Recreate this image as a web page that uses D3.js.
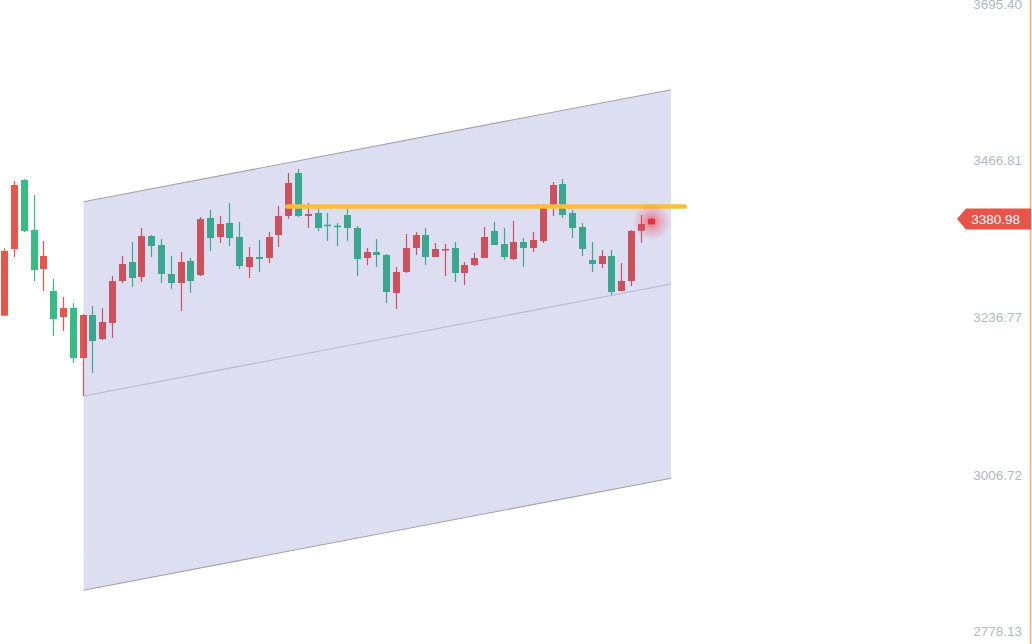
<!DOCTYPE html>
<html><head><meta charset="utf-8">
<script src="https://cdn.jsdelivr.net/npm/d3@7"></script>
<style>html,body{margin:0;padding:0;background:#fff;overflow:hidden}</style>
</head><body><svg id="c" width="1032" height="644"></svg>
<script>
const opens = [3239.41,3336.99,3437.94,3364.79,3307.73,3275.55,3237.51,3250.68,3177.53,3240.43,
3205.32,3228.73,3290.18,3317.97,3296.03,3356.01,3342.85,3300.42,3287.25,3319.44,
3298.96,3382.35,3354.55,3375.03,3354.55,3310.66,3325.29,3323.83,3357.47,3385.27,
3448.18,3385.27,3389.66,3372.55,3371.08,3386.74,3367.72,3323.83,3332.60,3328.21,
3272.62,3303.34,3338.46,3357.47,3325.29,3335.53,3338.46,3301.88,3313.58,3323.83,
3363.33,3344.31,3322.36,3347.23,3338.46,3348.70,3398.44,3432.09,3389.66,3369.18,
3320.90,3315.05,3326.75,3275.55,3290.18,3363.76,3373.13];
const closes = [3334.07,3430.62,3363.33,3306.27,3326.75,3234.58,3250.68,3177.53,3240.43,3202.40,
3230.19,3290.18,3315.05,3294.57,3356.01,3341.38,3300.42,3287.25,3317.97,3290.18,
3380.88,3353.09,3373.57,3353.09,3312.12,3325.29,3322.36,3354.55,3385.27,3433.55,
3385.27,3388.20,3367.72,3370.64,3369.18,3367.72,3322.36,3332.60,3328.21,3274.08,
3303.34,3338.46,3357.47,3325.29,3336.99,3336.99,3301.88,3313.58,3323.83,3354.55,
3342.85,3325.29,3347.23,3338.46,3350.16,3399.90,3430.62,3386.74,3367.72,3336.99,
3315.05,3326.75,3274.08,3290.18,3363.33,3373.57,3380.98];
const highs = [3338.02,3436.48,3439.40,3415.99,3348.70,3293.10,3266.77,3257.99,3241.90,3253.60,
3250.68,3297.49,3326.75,3347.23,3367.72,3357.47,3351.62,3326.75,3332.60,3323.83,
3383.81,3394.05,3385.27,3404.29,3376.49,3339.92,3350.16,3361.86,3399.90,3448.18,
3454.03,3404.29,3395.51,3389.66,3375.03,3395.51,3370.64,3338.46,3351.62,3329.68,
3310.66,3358.94,3361.86,3367.72,3345.77,3344.31,3347.23,3317.97,3331.14,3369.18,
3376.49,3367.72,3377.96,3353.09,3361.86,3402.83,3435.01,3439.40,3394.05,3375.03,
3347.23,3335.53,3335.53,3316.51,3364.79,3386.74,3383.00];
const lows = [3239.41,3325.29,3361.86,3290.18,3275.55,3209.71,3217.03,3170.21,3121.93,3155.58,
3203.86,3206.79,3287.25,3281.40,3288.71,3325.29,3287.25,3278.47,3246.29,3272.62,
3297.49,3334.07,3345.77,3341.38,3307.73,3294.57,3303.34,3316.51,3339.92,3380.88,
3383.81,3367.72,3363.33,3348.70,3341.38,3348.70,3297.49,3313.58,3310.66,3257.99,
3249.21,3301.88,3328.21,3313.58,3325.29,3297.49,3288.71,3284.33,3312.12,3323.83,
3342.85,3320.90,3320.90,3310.66,3332.60,3345.77,3385.27,3382.35,3353.09,3326.75,
3303.34,3309.20,3269.70,3275.55,3282.86,3346.20,3373.13];
const yTicks = [3695.40, 3466.81, 3236.77, 3006.72, 2778.13];
const lastPrice = 3380.98;
// parallel channel: base line from (index, price) to (index, price), band offset in price
const channelStart = [8.1, 3121.93];
const channelEnd = [68.1, 3285.79];
const channelOffset = 284.2;
// horizontal level line: [fromIndex, toIndex], price
const levelRange = [28.9, 69.5];
const levelPrice = 3399.3;

const svg = d3.select("#c");
const x = d3.scaleLinear().domain([0, 66]).range([4.3, 650.5]);
const y = d3.scaleLinear().domain([2778.13, 3695.40]).range([631, 4]);
const UP = "#eb5449", DOWN = "#36bd84";
const bw = 7;

const data = opens.map((o, i) => ({i, o, c: closes[i], h: highs[i], l: lows[i]}));

const defs = svg.append("defs");
const rg = defs.append("radialGradient").attr("id", "glow");
rg.append("stop").attr("offset", "0%").attr("stop-color", "rgb(240,40,50)").attr("stop-opacity", 0.65);
rg.append("stop").attr("offset", "50%").attr("stop-color", "rgb(240,60,70)").attr("stop-opacity", 0.28);
rg.append("stop").attr("offset", "100%").attr("stop-color", "rgb(240,60,70)").attr("stop-opacity", 0);

// candles
const g = svg.append("g");
const cg = g.selectAll("g.k").data(data.slice(0, -1)).join("g");
cg.append("line")
  .attr("x1", d => Math.round(x(d.i)) + 0.5).attr("x2", d => Math.round(x(d.i)) + 0.5)
  .attr("y1", d => y(d.h)).attr("y2", d => y(d.l))
  .attr("stroke", d => d.c >= d.o ? UP : DOWN).attr("stroke-width", 1.2);
cg.append("rect")
  .attr("x", d => Math.round(x(d.i)) + 0.5 - bw / 2).attr("width", bw)
  .attr("y", d => y(Math.max(d.o, d.c)))
  .attr("height", d => Math.max(1.5, y(Math.min(d.o, d.c)) - y(Math.max(d.o, d.c))))
  .attr("fill", d => d.c >= d.o ? UP : DOWN);

// channel band
const p = (i, v) => [x(i), y(v)];
const [i0, v0] = channelStart, [i1, v1] = channelEnd;
const band = [p(i0, v0 + channelOffset), p(i1, v1 + channelOffset), p(i1, v1 - channelOffset), p(i0, v0 - channelOffset)];
svg.append("path").attr("d", d3.line()(band) + "Z")
  .attr("fill", "rgba(70,70,190,0.18)");
const lines = [
  {a: p(i0, v0 + channelOffset), b: p(i1, v1 + channelOffset), c: "#a3a3ab"},
  {a: p(i0, v0), b: p(i1, v1), c: "#b9b9c9"},
  {a: p(i0, v0 - channelOffset), b: p(i1, v1 - channelOffset), c: "#a3a3ab"}
];
svg.selectAll("line.ch").data(lines).join("line")
  .attr("x1", d => d.a[0]).attr("y1", d => d.a[1]).attr("x2", d => d.b[0]).attr("y2", d => d.b[1])
  .attr("stroke", d => d.c).attr("stroke-width", 1.1);

// level line
svg.append("line")
  .attr("x1", x(levelRange[0])).attr("x2", x(levelRange[1]))
  .attr("y1", y(levelPrice)).attr("y2", y(levelPrice))
  .attr("stroke", "#fbbf3c").attr("stroke-width", 4.5).attr("stroke-linecap", "round");

// last candle with glow
const last = data[data.length - 1];
const lx = Math.round(x(last.i)) + 0.5;
svg.append("circle").attr("cx", lx).attr("cy", y((last.o + last.c) / 2)).attr("r", 19).attr("fill", "url(#glow)");
svg.append("line").attr("x1", lx).attr("x2", lx).attr("y1", y(last.h)).attr("y2", y(last.l))
  .attr("stroke", "#e8303c").attr("stroke-width", 1.2);
svg.append("rect").attr("x", lx - bw / 2).attr("width", bw)
  .attr("y", y(last.c)).attr("height", y(last.o) - y(last.c)).attr("fill", "#e8303c");

// right axis
svg.append("line").attr("x1", 1030.5).attr("x2", 1030.5).attr("y1", 0).attr("y2", 644)
  .attr("stroke", "#f8ad78").attr("stroke-width", 1.5);
svg.selectAll("text.t").data(yTicks).join("text")
  .attr("x", 1022).attr("y", d => y(d)).attr("dy", "0.36em")
  .attr("text-anchor", "end").attr("font-family", "Liberation Sans, Arial, sans-serif")
  .attr("font-size", 13.5).attr("fill", "#b4b7c7").text(d => d.toFixed(2));

// last price tag
const ly = y(lastPrice);
svg.append("path")
  .attr("d", d3.line()([[957, ly], [966, ly - 10.5], [1031, ly - 10.5], [1031, ly + 10.5], [966, ly + 10.5]]) + "Z")
  .attr("fill", "#e8534a");
svg.append("text").attr("x", 1020).attr("y", ly).attr("dy", "0.36em")
  .attr("text-anchor", "end").attr("font-family", "Liberation Sans, Arial, sans-serif")
  .attr("font-size", 13.5).attr("fill", "#fff").text(lastPrice.toFixed(2));
</script>
</body></html>
